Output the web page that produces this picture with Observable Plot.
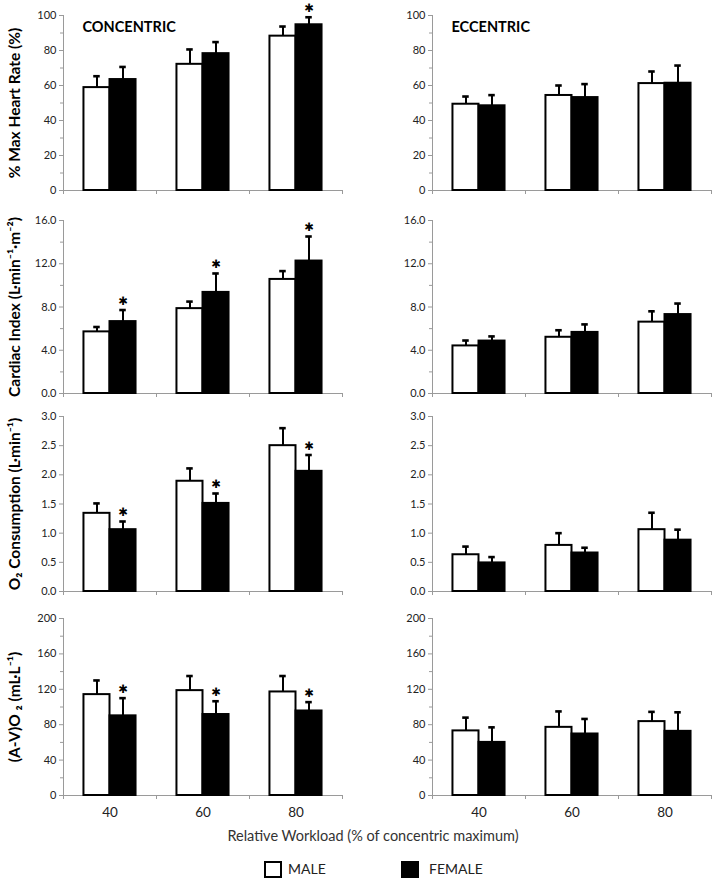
<!DOCTYPE html>
<html><head><meta charset="utf-8">
<script src="https://cdn.jsdelivr.net/npm/d3@7"></script>
<script src="https://cdn.jsdelivr.net/npm/@observablehq/plot@0.6"></script>
<style>
body{margin:0;background:#fff;}
#fig{position:relative;width:728px;height:881px;font-family:Lato,"Open Sans",sans-serif;background:#fff;overflow:hidden;}
.p{position:absolute;}
.p svg{background:transparent !important;}
.xt{position:absolute;left:373px;top:835px;transform:translate(-50%,-50%);font-size:14.5px;color:#333;white-space:nowrap;}
.lg{position:absolute;top:861px;width:14px;height:13px;border:2px solid #000;box-sizing:content-box;}
.lt{position:absolute;top:868px;transform:translateY(-50%);font-size:14px;color:#222;}
</style></head><body><div id="fig"></div>
<script>
// ---------------- data ----------------
const workloads = ["40", "60", "80"];
const sexes = ["MALE", "FEMALE"];

// % Max Heart Rate
const hrConMale = [58.8, 72.1, 88.2];
const hrConMaleSd = [6.5, 8.5, 5.5];
const hrConFemale = [63.4, 78.2, 94.7];
const hrConFemaleSd = [7.2, 6.6, 4.3];
const hrConSig = [false, false, true];
const hrEccMale = [49.3, 54.3, 61.1];
const hrEccMaleSd = [4.4, 5.7, 6.9];
const hrEccFemale = [48.4, 53.1, 61.3];
const hrEccFemaleSd = [6.1, 7.7, 10.1];
const hrEccSig = [false, false, false];

// Cardiac Index
const ciConMale = [5.7, 7.85, 10.55];
const ciConMaleSd = [0.45, 0.65, 0.77];
const ciConFemale = [6.65, 9.35, 12.25];
const ciConFemaleSd = [1.07, 1.75, 2.27];
const ciConSig = [true, true, true];
const ciEccMale = [4.4, 5.2, 6.6];
const ciEccMaleSd = [0.5, 0.65, 1.0];
const ciEccFemale = [4.85, 5.65, 7.3];
const ciEccFemaleSd = [0.43, 0.74, 1.02];
const ciEccSig = [false, false, false];

// O2 Consumption
const vo2ConMale = [1.34, 1.89, 2.5];
const vo2ConMaleSd = [0.17, 0.22, 0.3];
const vo2ConFemale = [1.06, 1.51, 2.06];
const vo2ConFemaleSd = [0.14, 0.17, 0.28];
const vo2ConSig = [true, true, true];
const vo2EccMale = [0.63, 0.79, 1.06];
const vo2EccMaleSd = [0.14, 0.21, 0.29];
const vo2EccFemale = [0.49, 0.66, 0.88];
const vo2EccFemaleSd = [0.1, 0.09, 0.18];
const vo2EccSig = [false, false, false];

// (A-V)O2 difference
const avConMale = [114, 118.5, 117];
const avConMaleSd = [16, 16.5, 18];
const avConFemale = [90, 91.5, 95.5];
const avConFemaleSd = [20, 15, 10];
const avConSig = [true, true, true];
const avEccMale = [73, 77, 83.5];
const avEccMaleSd = [15, 18, 11];
const avEccFemale = [60, 69.5, 72.5];
const avEccFemaleSd = [17, 17, 21.5];
const avEccSig = [false, false, false];

// axis tick labels
const hrTicks = [0, 20, 40, 60, 80, 100];
const hrMinor = [10, 30, 50, 70, 90];
const ciTicks = [0, 4, 8, 12, 16];
const ciMinor = [2, 6, 10, 14];
const vo2Ticks = [0, 0.5, 1, 1.5, 2, 2.5, 3];
const vo2Minor = [];
const avTicks = [0, 40, 80, 120, 160, 200];
const avMinor = [20, 60, 100, 140, 180];

const yTitles = ["% Max Heart Rate (%)", "Cardiac Index (L·min⁻¹·m⁻²)", "O₂ Consumption (L·min⁻¹)", "(A-V)O ₂ (mL·L⁻¹)"];
const modeLabels = ["CONCENTRIC", "ECCENTRIC"];
const xTitle = "Relative Workload (% of concentric maximum)";

// ---------------- layout ----------------
const rowGeo = [{top: 15, bottom: 190}, {top: 220, bottom: 393}, {top: 416, bottom: 591}, {top: 618, bottom: 795}];
const colGeo = [{left: 0, ml: 63, mr: 22}, {left: 364, ml: 68, mr: 17}];
const slot = {MALE: [0.22, 0.5], FEMALE: [0.5, 0.78]};
const axisGray = "#9a9a9a";

const panels = [
  {row: 0, col: 0, m: hrConMale, msd: hrConMaleSd, f: hrConFemale, fsd: hrConFemaleSd, sig: hrConSig, dom: [0, 100], ticks: hrTicks, minor: hrMinor, fmt: d3.format("d")},
  {row: 0, col: 1, m: hrEccMale, msd: hrEccMaleSd, f: hrEccFemale, fsd: hrEccFemaleSd, sig: hrEccSig, dom: [0, 100], ticks: hrTicks, minor: hrMinor, fmt: d3.format("d")},
  {row: 1, col: 0, m: ciConMale, msd: ciConMaleSd, f: ciConFemale, fsd: ciConFemaleSd, sig: ciConSig, dom: [0, 16], ticks: ciTicks, minor: ciMinor, fmt: d3.format(".1f")},
  {row: 1, col: 1, m: ciEccMale, msd: ciEccMaleSd, f: ciEccFemale, fsd: ciEccFemaleSd, sig: ciEccSig, dom: [0, 16], ticks: ciTicks, minor: ciMinor, fmt: d3.format(".1f")},
  {row: 2, col: 0, m: vo2ConMale, msd: vo2ConMaleSd, f: vo2ConFemale, fsd: vo2ConFemaleSd, sig: vo2ConSig, dom: [0, 3], ticks: vo2Ticks, minor: vo2Minor, fmt: d3.format(".1f")},
  {row: 2, col: 1, m: vo2EccMale, msd: vo2EccMaleSd, f: vo2EccFemale, fsd: vo2EccFemaleSd, sig: vo2EccSig, dom: [0, 3], ticks: vo2Ticks, minor: vo2Minor, fmt: d3.format(".1f")},
  {row: 3, col: 0, m: avConMale, msd: avConMaleSd, f: avConFemale, fsd: avConFemaleSd, sig: avConSig, dom: [0, 200], ticks: avTicks, minor: avMinor, fmt: d3.format("d")},
  {row: 3, col: 1, m: avEccMale, msd: avEccMaleSd, f: avEccFemale, fsd: avEccFemaleSd, sig: avEccSig, dom: [0, 200], ticks: avTicks, minor: avMinor, fmt: d3.format("d")}
];

const fig = document.getElementById("fig");

for (const p of panels) {
  const rows = [];
  workloads.forEach((w, i) => {
    rows.push({w, g: i, sex: sexes[0], mean: p.m[i], sd: p.msd[i], sig: false});
    rows.push({w, g: i, sex: sexes[1], mean: p.f[i], sd: p.fsd[i], sig: p.sig[i]});
  });
  const cx = d => d.g + (slot[d.sex][0] + slot[d.sex][1]) / 2;
  const top = d => d.mean + d.sd;
  const geo = rowGeo[p.row], col = colGeo[p.col];
  const last = p.row === rowGeo.length - 1;
  const mt = 8, mb = last ? 30 : 8;
  const marks = [
    Plot.ruleX([0], {stroke: axisGray}),
    Plot.ruleY([p.dom[0]], {stroke: axisGray}),
    Plot.axisY({ticks: p.ticks, tickFormat: p.fmt, tickSize: 4, tickPadding: 3, stroke: axisGray, fill: "#222", fontSize: 11, label: null}),
    Plot.axisX({ticks: d3.range(workloads.length + 1), tickSize: 4, tickFormat: () => "", stroke: axisGray, label: null})
  ];
  if (p.minor.length) marks.push(Plot.axisY({ticks: p.minor, tickSize: 3, tickFormat: () => "", stroke: axisGray, label: null}));
  if (last) marks.push(Plot.axisX({ticks: workloads.map((_, i) => i + 0.5), tickSize: 0, tickPadding: 12, tickFormat: d => workloads[Math.floor(d)], fill: "#222", fontSize: 13.5, label: null}));
  marks.push(
    Plot.ruleX(rows, {x: cx, y1: "mean", y2: top, stroke: "#000", strokeWidth: 2}),
    Plot.ruleY(rows, {y: top, x1: d => cx(d) - 0.035, x2: d => cx(d) + 0.035, stroke: "#000", strokeWidth: 2.6}),
    Plot.rectY(rows, {x1: d => d.g + slot[d.sex][0], x2: d => d.g + slot[d.sex][1], y1: p.dom[0], y2: "mean",
      fill: d => d.sex === "MALE" ? "#fff" : "#000", stroke: "#000", strokeWidth: 2}),
    Plot.text(rows.filter(d => d.sig), {x: cx, y: top, text: () => "✱", dy: -9, fontSize: 11.5, fill: "#000", fontFamily: "DejaVu Sans"})
  );
  if (p.col === 0) marks.push(Plot.text([yTitles[p.row]], {frameAnchor: "left", dx: -48, rotate: -90, textAnchor: "middle", lineAnchor: "middle", fontSize: 15.5, fontWeight: "bold", fill: "#000"}));
  if (p.row === 0) marks.push(Plot.text([modeLabels[p.col]], {frameAnchor: "top-left", dx: 19, dy: 12, lineAnchor: "middle", textAnchor: "start", fontSize: 14.5, fontWeight: "bold", fill: "#000"}));

  const svg = Plot.plot({
    width: 364,
    height: geo.bottom - geo.top + mt + mb,
    marginTop: mt, marginBottom: mb, marginLeft: col.ml, marginRight: col.mr,
    x: {domain: [0, workloads.length], axis: null},
    y: {domain: p.dom, axis: null},
    style: {fontFamily: "Lato, 'Open Sans', sans-serif", fontSize: "11px", background: "transparent", overflow: "visible"},
    marks
  });
  const div = document.createElement("div");
  div.className = "p";
  div.style.left = col.left + "px";
  div.style.top = (geo.top - mt) + "px";
  div.appendChild(svg);
  fig.appendChild(div);
}

// x-axis title and legend (HTML, below the panels)
const xt = document.createElement("div");
xt.className = "xt"; xt.textContent = xTitle; fig.appendChild(xt);
const legendItems = [{label: sexes[0], fill: "#fff", box: 264, text: 288}, {label: sexes[1], fill: "#000", box: 401, text: 429}];
for (const it of legendItems) {
  const b = document.createElement("div");
  b.className = "lg"; b.style.left = it.box + "px"; b.style.background = it.fill; fig.appendChild(b);
  const t = document.createElement("div");
  t.className = "lt"; t.style.left = it.text + "px"; t.textContent = it.label; fig.appendChild(t);
}
</script></body></html>
